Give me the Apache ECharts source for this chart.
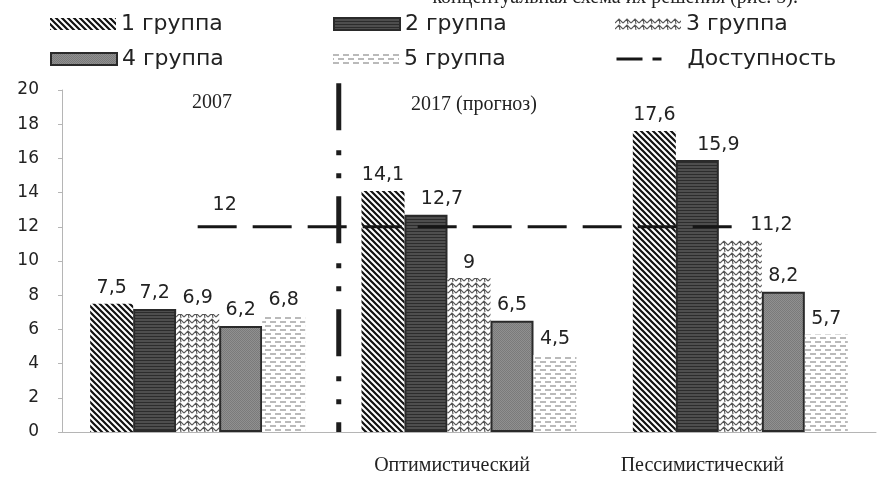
<!DOCTYPE html>
<html>
<head>
<meta charset="utf-8">
<script src="https://cdn.jsdelivr.net/npm/echarts@6/dist/echarts.min.js"></script>
<style>
  html, body { margin: 0; padding: 0; background: #fff; }
  #chart { width: 886px; height: 478px; }
</style>
</head>
<body>
<div id="chart"></div>
<script>
// данные
const categories = ['', 'Оптимистический', 'Пессимистический']
const groupNames = ['1 группа', '2 группа', '3 группа', '4 группа', '5 группа']
const group1 = [7.5, 14.1, 17.6]
const group2 = [7.2, 12.7, 15.9]
const group3 = [6.9, 9, 11.2]
const group4 = [6.2, 6.5, 8.2]
const group5 = [6.8, 4.5, 5.7]
const accessName = 'Доступность'
const access = [12, 12, 12]
const yMin = 0, yMax = 20, yStep = 2

// сдвиг подписей вправо (серия-категория -> px)
const labelShift = { '1-1': 16, '1-2': 21, '2-2': 31 }

// штриховки
function tile(w, h, draw) {
  const c = document.createElement('canvas')
  c.width = w
  c.height = h
  draw(c.getContext('2d'), w, h)
  return { image: c, repeat: 'repeat' }
}

const fills = [
  tile(6, 6, (ctx) => {
    ctx.fillStyle = '#fff'; ctx.fillRect(0, 0, 6, 6)
    ctx.strokeStyle = '#111'; ctx.lineWidth = 2.2
    ctx.beginPath()
    ctx.moveTo(-1, -1); ctx.lineTo(7, 7)
    ctx.moveTo(-1, 5); ctx.lineTo(1, 7)
    ctx.moveTo(5, -1); ctx.lineTo(7, 1)
    ctx.stroke()
  }),
  tile(4, 3, (ctx) => {
    ctx.fillStyle = '#4e4e4e'; ctx.fillRect(0, 0, 4, 3)
    ctx.fillStyle = '#2c2c2c'; ctx.fillRect(0, 0, 4, 1)
  }),
  tile(8, 6, (ctx) => {
    ctx.fillStyle = '#fff'; ctx.fillRect(0, 0, 8, 6)
    ctx.strokeStyle = '#555'; ctx.lineWidth = 1.1
    ctx.beginPath()
    ctx.moveTo(0, 5); ctx.lineTo(4, 1); ctx.lineTo(8, 5)
    ctx.moveTo(4, 1); ctx.lineTo(5, 6)
    ctx.stroke()
  }),
  tile(2, 2, (ctx) => {
    ctx.fillStyle = '#909090'; ctx.fillRect(0, 0, 2, 2)
    ctx.fillStyle = '#7a7a7a'; ctx.fillRect(0, 0, 1, 1); ctx.fillRect(1, 1, 1, 1)
  }),
  tile(10, 8, (ctx) => {
    ctx.fillStyle = '#fff'; ctx.fillRect(0, 0, 10, 8)
    ctx.strokeStyle = '#777'; ctx.lineWidth = 1.2
    ctx.beginPath()
    ctx.moveTo(0, 2); ctx.lineTo(6, 2)
    ctx.moveTo(5, 6); ctx.lineTo(10, 6)
    ctx.moveTo(0, 6); ctx.lineTo(1, 6)
    ctx.stroke()
  })
]
const borders = [null, '#2a2a2a', null, '#2a2a2a', null]

const values = [group1, group2, group3, group4, group5]

const sans = 'DejaVu Sans'
const serif = 'Liberation Serif'
const fmt = (v) => String(v).replace('.', ',')

function barStyle(s) {
  return {
    color: fills[s],
    borderColor: borders[s] || 'transparent',
    borderWidth: borders[s] ? 2 : 0
  }
}

let series = values.map((arr, s) => ({
  name: groupNames[s],
  type: 'bar',
  barWidth: 43,
  barGap: '0%',
  itemStyle: barStyle(s),
  label: {
    show: true,
    position: 'top',
    distance: 6,
    fontFamily: sans,
    fontSize: 19,
    color: '#222',
    formatter: (p) => fmt(p.value)
  },
  data: arr.map((v, i) => {
    const dx = labelShift[s + '-' + i]
    return dx ? { value: v, label: { offset: [dx, 0] } } : v
  })
}))

series.push({
  name: accessName,
  type: 'line',
  symbol: 'circle',
  symbolSize: 1,
  showSymbol: true,
  z: 5,
  lineStyle: { color: '#161616', width: 3, type: [39, 16] },
  itemStyle: { color: 'rgba(0,0,0,0)' },
  label: {
    show: true,
    position: 'top',
    distance: 8,
    offset: [27, -4],
    fontFamily: sans,
    fontSize: 19,
    color: '#222',
    formatter: (p) => p.dataIndex === 0 ? fmt(p.value) : ''
  },
  data: access
})

// вертикальный разделитель 2007 / 2017
series.push({
  type: 'line',
  xAxisIndex: 1,
  symbol: 'none',
  silent: true,
  clip: false,
  z: 6,
  lineStyle: { color: '#1c1c1c', width: 5, type: [47, 20, 5, 18, 5, 18] },
  data: [[1.02, 20.4], [1.02, 0]]
})

const legendPos = [
  [50, 13], [333, 13], [615, 13],
  [50, 48], [333, 48], [615, 48]
]
const legendNames = groupNames.concat([accessName])
const legend = legendNames.map((n, i) => ({
  data: [n === accessName
    ? { name: n, itemStyle: { color: 'rgba(0,0,0,0)' } }
    : { name: n, icon: 'rect', itemStyle: barStyle(i) }],
  left: legendPos[i][0],
  top: legendPos[i][1],
  padding: 0,
  itemWidth: 66,
  itemHeight: 12,
  selectedMode: false,
  textStyle: { fontFamily: sans, fontSize: 22, color: '#222' },
  lineStyle: n === accessName ? { width: 3, type: [26, 10, 9, 21], color: '#161616' } : undefined
}))

const chart = echarts.init(document.getElementById('chart'), null, { renderer: 'canvas' })
chart.setOption({
  backgroundColor: '#fff',
  animation: false,
  legend: legend,
  grid: { left: 62, right: 10, top: 90, bottom: 46 },
  xAxis: [{
    type: 'category',
    data: categories,
    axisLine: { lineStyle: { color: '#b5b5b5', width: 1 } },
    axisTick: { show: false },
    axisLabel: {
      margin: 24,
      fontFamily: serif,
      fontSize: 20,
      color: '#222',
      formatter: (v, i) => '{c' + i + '|' + v + '}',
      rich: {
        c0: {},
        c1: { padding: [0, 34, 0, 0] },
        c2: { padding: [0, 76, 0, 0] }
      }
    }
  }, {
    type: 'value',
    min: 0,
    max: 3,
    show: false
  }],
  yAxis: {
    type: 'value',
    min: yMin,
    max: yMax,
    interval: yStep,
    offset: 9,
    axisLine: { show: true, lineStyle: { color: '#b5b5b5', width: 1 } },
    axisTick: { show: true, length: 4, lineStyle: { color: '#b5b5b5' } },
    splitLine: { show: false },
    axisLabel: { margin: 14, fontFamily: sans, fontSize: 17, color: '#222' }
  },
  graphic: [
    { type: 'text', x: 798, y: -12,
      style: { text: 'концептуальная схема их решения (рис. 5).', font: '20px "Liberation Serif"', fill: '#222', align: 'right', verticalAlign: 'top' } },
    { type: 'text', x: 212, y: 103,
      style: { text: '2007', font: '20px "Liberation Serif"', fill: '#222', align: 'center', verticalAlign: 'middle' } },
    { type: 'text', x: 474, y: 105,
      style: { text: '2017 (прогноз)', font: '20px "Liberation Serif"', fill: '#222', align: 'center', verticalAlign: 'middle' } }
  ],
  series: series
})
</script>
</body>
</html>
